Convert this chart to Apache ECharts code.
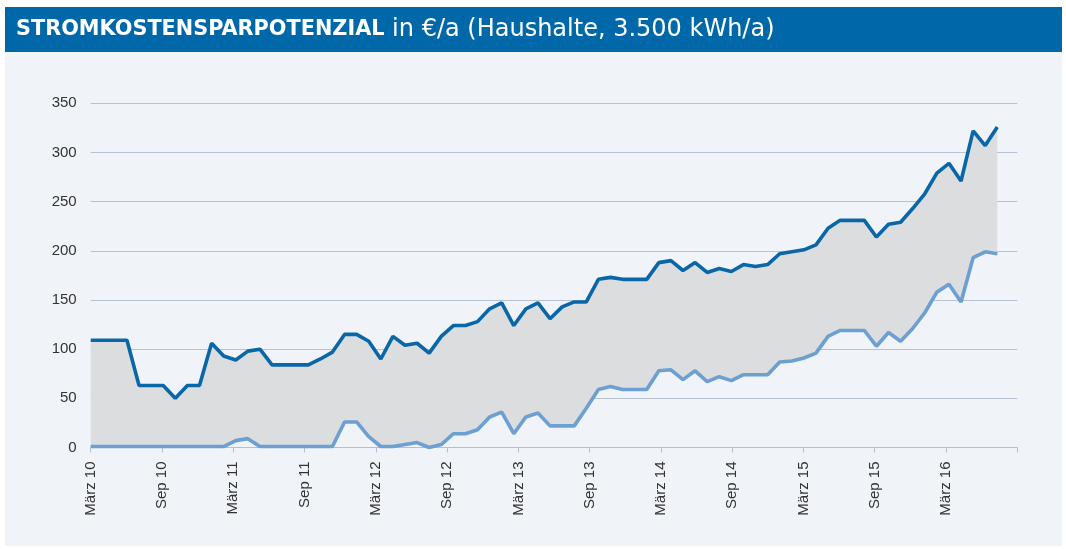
<!DOCTYPE html>
<html lang="de">
<head>
  <meta charset="UTF-8">
  <title>Stromkostensparpotenzial</title>
  <style>
    html, body { margin: 0; padding: 0; background: #fff; }
    #chart { width: 1066px; height: 549px; }
  </style>
</head>
<body>
  <div id="chart"></div>

  <script src="https://cdn.jsdelivr.net/npm/echarts@6/dist/echarts.min.js"></script>
  <script>
    // Beschriftungen der x-Achse (alle 6 Monate), letzter Strich ohne Text
    const tickLabels = [
      'März 10', 'Sep 10', 'März 11', 'Sep 11', 'März 12', 'Sep 12', 'März 13',
      'Sep 13', 'März 14', 'Sep 14', 'März 15', 'Sep 15', 'März 16', ''
    ]

    // oberer Rand des Sparpotenzials (€/a)
    const upper = [
      109, 109, 109, 109, 63, 63, 63, 50, 63, 63,
      106, 93, 89, 98, 100, 84, 84, 84, 84, 90,
      97, 115, 115, 108, 90, 113, 104, 106, 96, 113,
      124, 124, 128, 141, 147, 124, 141, 147, 131, 143,
      148, 148, 171, 173, 171, 171, 171, 188, 190, 180,
      188, 178, 182, 179, 186, 184, 186, 197, 199, 201,
      206, 223, 231, 231, 231, 214, 227, 229, 243, 258,
      279, 289, 271, 322, 307, 326
    ]

    // unterer Rand
    const lower = [
      1, 1, 1, 1, 1, 1, 1, 1, 1, 1,
      1, 1, 7, 9, 1, 1, 1, 1, 1, 1,
      1, 26, 26, 11, 1, 1, 3, 5, 0, 3,
      14, 14, 18, 31, 36, 14, 31, 35, 22, 22,
      22, 40, 59, 62, 59, 59, 59, 78, 79, 69,
      78, 67, 72, 68, 74, 74, 74, 87, 88, 91,
      96, 113, 119, 119, 119, 103, 117, 108, 121, 137,
      158, 166, 148, 193, 199, 197
    ]

    const chart = echarts.init(document.getElementById('chart'))

    const idx = upper.map((v, i) => i)
    const band = upper.map((v, i) => v - lower[i])

    const plotTop = 103.3
    const plotBottom = 101.5

    chart.setOption({
      backgroundColor: '#ffffff',
      animation: false,
      graphic: [
        {
          type: 'rect', z: -10,
          shape: { x: 5, y: 52, width: 1057, height: 494 },
          style: { fill: '#f0f4f9' }
        },
        {
          type: 'rect', z: -10,
          shape: { x: 5, y: 7, width: 1057, height: 45 },
          style: { fill: '#0068a9' }
        }
      ],
      title: {
        left: 16,
        top: 17,
        padding: 0,
        text: '{b|STROMKOSTENSPARPOTENZIAL}{n| in €/a (Haushalte, 3.500 kWh/a)}',
        textStyle: {
          rich: {
            b: { fontFamily: 'DejaVu Sans', fontWeight: 'bold', fontSize: 20.8, color: '#fff', lineHeight: 26 },
            n: { fontFamily: 'DejaVu Sans', fontWeight: 'normal', fontSize: 24, color: '#fff', lineHeight: 26 }
          }
        }
      },
      grid: [
        // Achsen, Gitterlinien und Beschriftung
        { left: 90.7, right: 48.7, top: plotTop, bottom: plotBottom },
        // Datenbereich (endet vor dem letzten Achsenstrich)
        { left: 90.7, right: 68.7, top: plotTop, bottom: plotBottom }
      ],
      xAxis: [
        {
          gridIndex: 0,
          type: 'value',
          min: 0,
          max: 78,
          interval: 6,
          axisLine: { show: true, lineStyle: { color: '#b4bfd2', width: 1 } },
          axisTick: { show: true, length: 5, lineStyle: { color: '#b4bfd2' } },
          splitLine: { show: false },
          axisLabel: {
            rotate: 90,
            margin: 14,
            fontFamily: 'Liberation Sans',
            fontSize: 15,
            color: '#333',
            formatter: v => tickLabels[Math.round(v / 6)] || ''
          }
        },
        {
          gridIndex: 1,
          type: 'category',
          data: idx,
          boundaryGap: false,
          show: false
        }
      ],
      yAxis: [
        {
          gridIndex: 0,
          type: 'value',
          min: 0,
          max: 350,
          interval: 50,
          axisLine: { show: false },
          axisTick: { show: false },
          splitLine: { lineStyle: { color: '#b7c2d6', width: 1 } },
          axisLabel: {
            margin: 14,
            fontFamily: 'Liberation Sans',
            fontSize: 15,
            color: '#333'
          }
        },
        {
          gridIndex: 1,
          type: 'value',
          min: 0,
          max: 350,
          show: false,
          splitLine: { show: false }
        }
      ],
      series: [
        {
          name: 'base',
          type: 'line',
          xAxisIndex: 1,
          yAxisIndex: 1,
          stack: 'band',
          data: lower,
          symbol: 'none',
          lineStyle: { opacity: 0 },
          silent: true
        },
        {
          name: 'band',
          type: 'line',
          xAxisIndex: 1,
          yAxisIndex: 1,
          stack: 'band',
          data: band,
          symbol: 'none',
          lineStyle: { opacity: 0 },
          areaStyle: { color: '#dcdddf', opacity: 1 },
          silent: true
        },
        {
          name: 'unten',
          type: 'line',
          xAxisIndex: 1,
          yAxisIndex: 1,
          data: lower,
          symbol: 'none',
          lineStyle: { color: '#6c9fd2', width: 3.6 },
          z: 3
        },
        {
          name: 'oben',
          type: 'line',
          xAxisIndex: 1,
          yAxisIndex: 1,
          data: upper,
          symbol: 'none',
          lineStyle: { color: '#0a67a7', width: 3.6 },
          z: 4
        }
      ]
    })
  </script>
</body>
</html>
